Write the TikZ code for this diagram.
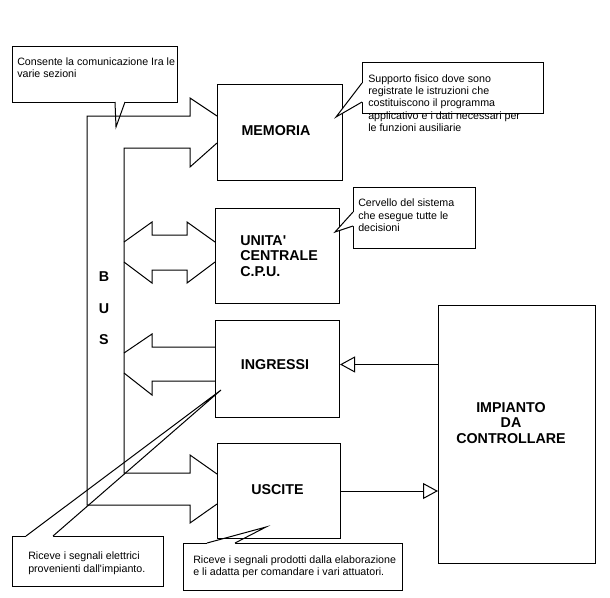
\documentclass[tikz,border=0pt]{standalone}
\usepackage{fontspec}
\setmainfont{Liberation Sans}
\usetikzlibrary{arrows.meta}
\begin{document}
\begin{tikzpicture}[x=0.75pt,y=-0.75pt,
  ln/.style={line width=0.75pt, line join=miter},
  box/.style={draw, line width=0.75pt, inner sep=0pt, anchor=north west},
  lbl/.style={font=\fontsize{10.7}{11.6}\selectfont\bfseries, inner sep=0pt},
  txt/.style={font=\fontsize{8}{9.2}\selectfont, inner sep=0pt, align=left, anchor=base west},
  opentri/.style={-{Triangle[open,length=11.25pt,width=12pt]}},
  tailfill/.style={fill=white}]
\useasboundingbox (0,0) rectangle (610,597);
\fill[white] (0,0) rectangle (610,597);

% ---- callouts drawn below the bus ----
\node[box, minimum width=123.75pt, minimum height=42pt] (c1) at (12,46) {};
\coordinate (c1tip) at (116,127);
\fill[tailfill] (115,100.8) -- (115,102) -- (c1tip) -- (125,102) -- (125,100.8) -- cycle;
\draw[ln] (115,102) -- (c1tip) -- (125,102);

\node[box, minimum width=113.25pt, minimum height=37.5pt] (c4) at (12,536) {};
\coordinate (c4tip) at (221,390);
\fill[tailfill] (26,537.2) -- (26,536) -- (c4tip) -- (53,536) -- (53,537.2) -- cycle;
\draw[ln] (26,536) -- (c4tip) -- (53,536);

\node[box, minimum width=164.25pt, minimum height=35.25pt] (c5) at (183,543) {};
\coordinate (c5tip) at (266,527);
\fill[tailfill] (207,544.2) -- (207,543) -- (c5tip) -- (235,543) -- (235,544.2) -- cycle;
\draw[ln] (207,543) -- (c5tip) -- (235,543);

% ---- bus ----
\draw[ln] (217,116) -- (190,98) -- (190,116) -- (87,116) -- (87,505) -- (190,505) -- (190,523) -- (217,504);
\draw[ln] (217,143) -- (190,167) -- (190,148) -- (124,148) -- (124,473) -- (190,473) -- (190,455) -- (217,474);
\node[font=\fontsize{10.7}{23.6}\selectfont\bfseries, inner sep=0pt, align=center] (bus) at (104,308.5) {B\\U\\S};

% ---- CPU double arrow ----
\draw[ln] (124,242) -- (152,222) -- (152,235) -- (187,235) -- (187,222) -- (215,242);
\draw[ln] (215,262) -- (187,283) -- (187,270) -- (152,270) -- (152,283) -- (124,262);

% ---- ingressi arrow ----
\draw[ln] (215,347) -- (152,347) -- (152,334) -- (124,353);
\draw[ln] (124,373) -- (152,395) -- (152,381) -- (215,381);

% ---- blocks ----
\node[box, minimum width=93pt, minimum height=72.75pt] (ing) at (215,320) {};
\node[lbl] (ingt) at (275,365) {INGRESSI};
\node[box, minimum width=92.25pt, minimum height=71.25pt] (usc) at (217,443) {};
\node[lbl] (usct) at (277.5,490) {USCITE};
\node[box, minimum width=117.75pt, minimum height=193.5pt] (imp) at (438,305) {};
\node[lbl, align=center, anchor=base] (impt) at (511,443) {IMPIANTO\\DA\\CONTROLLARE};

\coordinate (ingc) at ([yshift=3.4pt]ing.east);
\draw[ln, opentri] (imp.west |- ingc) -- (ingc);
\draw[ln, opentri] (usc.east) -- (imp.west |- usc.east);

\node[box, minimum width=93.75pt, minimum height=72pt] (mem) at (217,84) {};
\node[lbl] (memt) at (276,131) {MEMORIA};
\node[box, minimum width=93pt, minimum height=71.25pt] (cpu) at (215,208) {};
\node[lbl, align=left, anchor=base west] (cput) at (240,276) {UNITA\textquotesingle\\CENTRALE\\C.P.U.};

% ---- callouts drawn above the blocks ----
\node[box, minimum width=135.75pt, minimum height=38.25pt] (c2) at (362,62) {};
\coordinate (c2tip) at (336,117);
\fill[tailfill] (363.2,83) -- (362,83) -- (c2tip) -- (362,102) -- (363.2,102) -- cycle;
\draw[ln] (362,83) -- (c2tip) -- (362,102);

\node[box, minimum width=91.5pt, minimum height=45.75pt] (c3) at (353,187) {};
\coordinate (c3tip) at (335,232);
\fill[tailfill] (354.2,212) -- (353,212) -- (c3tip) -- (353,226) -- (354.2,226) -- cycle;
\draw[ln] (353,212) -- (c3tip) -- (353,226);

% ---- callout texts (base = last line) ----
\node[txt] (t1) at (17,77.5) {Consente la comunicazione Ira le\\varie sezioni};
\node[txt] (t2) at (368,131.5) {Supporto fisico dove sono\\registrate le istruzioni che\\costituiscono il programma\\applicativo e i dati necessari per\\le funzioni ausiliarie};
\node[txt] (t3) at (358,231.5) {Cervello del sistema\\che esegue tutte le\\decisioni};
\node[txt] (t4) at (28,572) {Riceve i segnali elettrici\\provenienti dall\textquotesingle impianto.};
\node[txt] (t5) at (193,575.5) {Riceve i segnali prodotti dalla elaborazione\\e li adatta per comandare i vari attuatori.};
\end{tikzpicture}
\end{document}
